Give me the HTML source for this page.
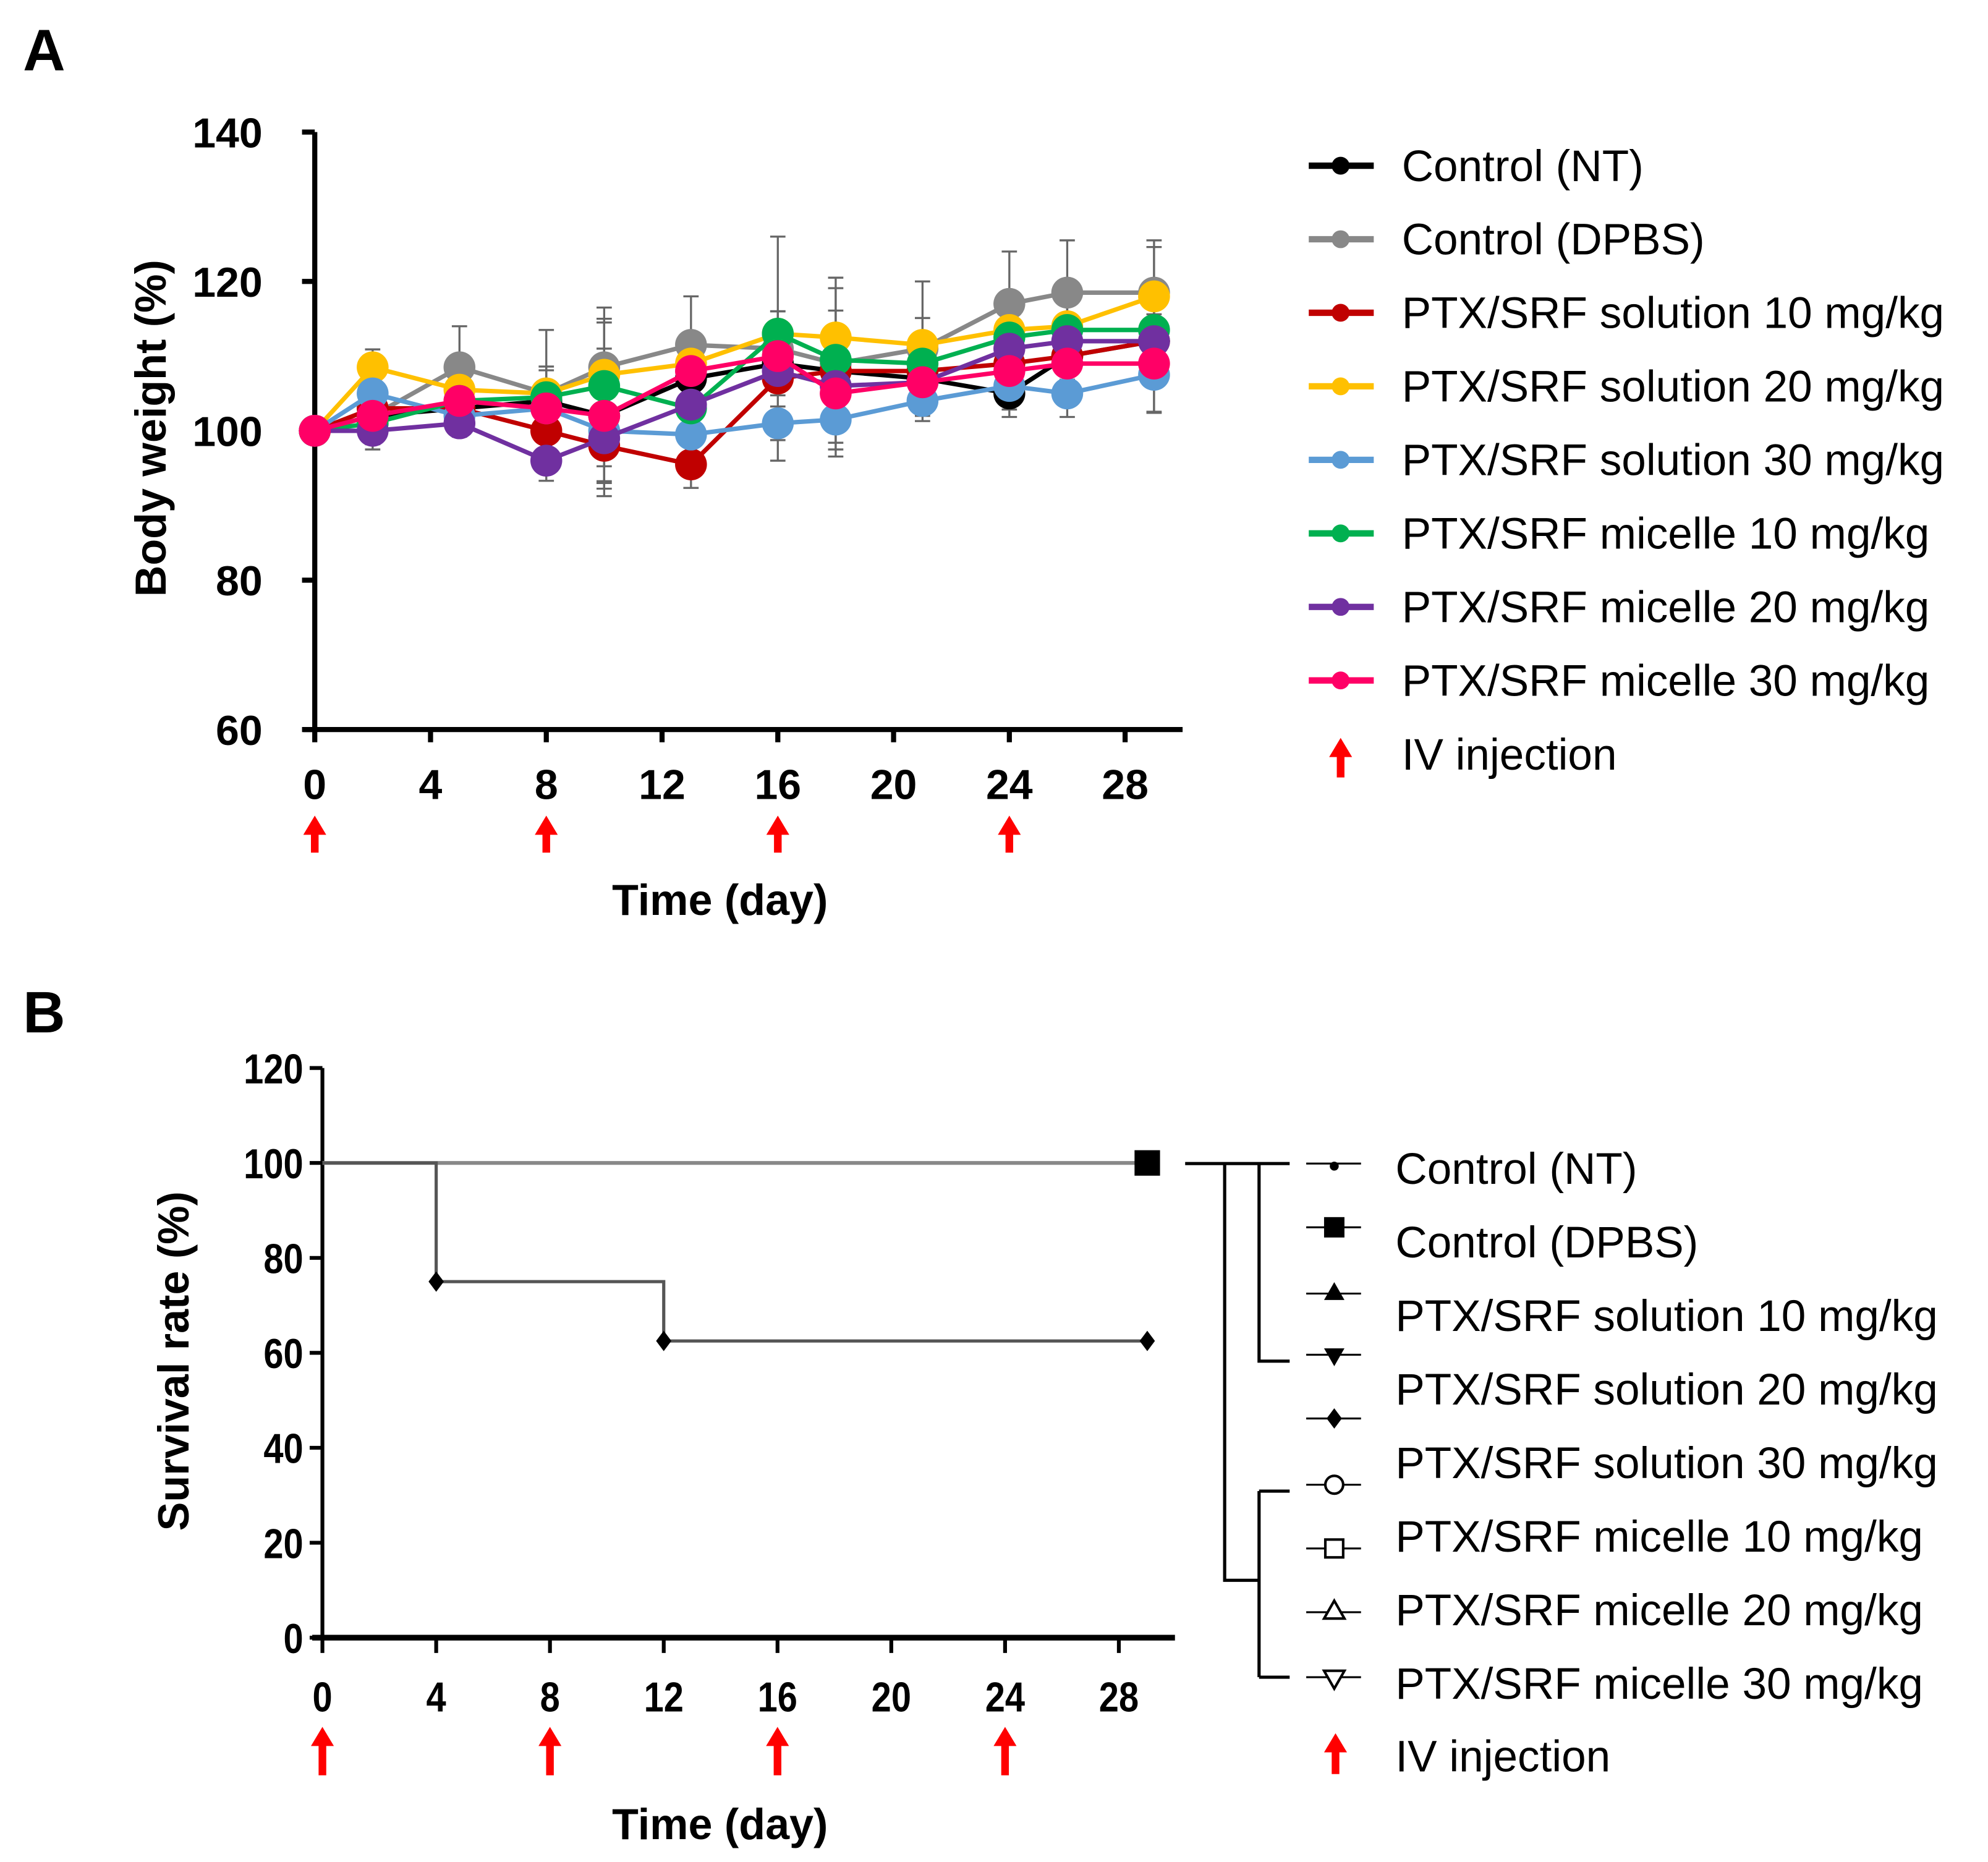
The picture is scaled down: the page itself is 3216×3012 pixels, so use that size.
<!DOCTYPE html>
<html><head><meta charset="utf-8"><style>
html,body{margin:0;padding:0;background:#fff;}
svg{display:block;}
text{font-family:"Liberation Sans",Arial,sans-serif;}
</style></head><body>
<svg id="fig" width="3216" height="3012" viewBox="0 0 1560 1461" xmlns="http://www.w3.org/2000/svg">
<g id="A"></g>
<g id="B"></g>
</svg>
<script>
const days = [0,2,5,8,10,13,16,18,21,24,26,29];
const seriesNames = ["Control (NT)","Control (DPBS)","PTX/SRF solution 10 mg/kg","PTX/SRF solution 20 mg/kg","PTX/SRF solution 30 mg/kg","PTX/SRF micelle 10 mg/kg","PTX/SRF micelle 20 mg/kg","PTX/SRF micelle 30 mg/kg"];
const seriesColors = ["#000000","#888888","#c00000","#ffc000","#5b9bd5","#00b050","#7030a0","#ff0066"];
const ctrlNT   = [100,102,103,104,102,107,109,108,107,105,110,112];
const ctrlDPBS = [100,102,108.5,105,108.5,111.5,111,109,111,117,118.5,118.5];
const sol10    = [100,103,103,100,98,95.5,107,108,108,109,110,112];
const sol20    = [100,108.5,105.5,105,107.5,109,113,112.5,111.5,113.5,114,118];
const sol30    = [100,105,102,103,100,99.5,101,101.5,104,106,105,107.5];
const mic10    = [100,101,104,104.5,106,103,113,109.5,109,112.5,113.5,113.5];
const mic20    = [100,100,101,96,99,103.5,108,106,106.5,111,112,112];
const mic30    = [100,102,104,103,102,108,110,105,106.5,108,109,109];
const errDPBS  = [0,4.5,5.5,8.5,6,6.5,15,11.5,9,7,7,7];
const errOther = [0,4,4,6,15,7,5,11,6,7,7,11];
const yTicksA = [60,80,100,120,140];
const xTicks = [0,4,8,12,16,20,24,28];
const injectionDays = [0,8,16,24];
const survNames = ["Control (NT)","Control (DPBS)","PTX/SRF solution 10 mg/kg","PTX/SRF solution 20 mg/kg","PTX/SRF solution 30 mg/kg","PTX/SRF micelle 10 mg/kg","PTX/SRF micelle 20 mg/kg","PTX/SRF micelle 30 mg/kg"];
const survStepDays = [0,4,12,29];
const survStepVals = [100,75,62.5,62.5];
const yTicksB = [0,20,40,60,80,100,120];

const NS="http://www.w3.org/2000/svg";
function mk(parent,tag,attrs,txt){const e=document.createElementNS(NS,tag);for(const k in attrs)e.setAttribute(k,attrs[k]);if(txt!==undefined)e.textContent=txt;parent.appendChild(e);return e;}
function arrow(g,x,y0,y1){
  const a=mk(g,'path',{d:`M${x} ${y0} L${x+9} ${y0+15} L${x+3} ${y0+15} L${x+3} ${y1} L${x-3} ${y1} L${x-3} ${y0+15} L${x-9} ${y0+15} Z`,fill:'#ff0000'});
  
  
}
const A=document.getElementById('A');
const xA=d=>247+d*22.71, yA=v=>338-(v-100)*5.86;
let t=mk(A,'text',{x:18,y:55,'font-size':46,'font-weight':'bold'},'A');

let ax=mk(A,'path',{d:`M247 ${yA(140)} V${yA(60)} M238 ${yA(60)} H928`,stroke:'#000','stroke-width':4,fill:'none'});

yTicksA.forEach(v=>{mk(A,'line',{x1:237,x2:247,y1:yA(v),y2:yA(v),stroke:'#000','stroke-width':4});
 const l=mk(A,'text',{x:206,y:yA(v)+12,'font-size':33,'font-weight':'bold','text-anchor':'end'},v);
 });
xTicks.forEach(d=>{mk(A,'line',{x1:xA(d),x2:xA(d),y1:yA(60),y2:yA(60)+10,stroke:'#000','stroke-width':4});
 const l=mk(A,'text',{x:xA(d),y:627,'font-size':33,'font-weight':'bold','text-anchor':'middle'},d);
 });
injectionDays.forEach(d=>arrow(A,xA(d),640,669));
t=mk(A,'text',{x:565,y:718,'font-size':34,'font-weight':'bold','text-anchor':'middle'},'Time (day)');

t=mk(A,'text',{x:0,y:0,'font-size':34,'font-weight':'bold','text-anchor':'middle',transform:'translate(130,336) rotate(-90)'},'Body weight (%)');

const allSeries=[ctrlNT,ctrlDPBS,sol10,sol20,sol30,mic10,mic20,mic30];
allSeries.forEach((s,si)=>{const e=si===1?errDPBS:errOther;s.forEach((v,i)=>{if(i===0)return;
 const x=xA(days[i]), er=e[i]*(si===1?1:(si%2?0.6:0.45));
 const eb=mk(A,'path',{d:`M${x} ${yA(v+er)} V${yA(v-er)} M${x-6} ${yA(v+er)} H${x+6} M${x-6} ${yA(v-er)} H${x+6}`,stroke:'#666','stroke-width':1.6,fill:'none'});
 });});
allSeries.forEach((s,si)=>{const g=mk(A,'g',{});
 
 const ln=mk(g,'polyline',{points:s.map((v,i)=>xA(days[i])+','+yA(v)).join(' '),stroke:seriesColors[si],'stroke-width':3.5,fill:'none'});
 
 s.forEach((v,i)=>{const c=mk(g,'circle',{cx:xA(days[i]),cy:yA(v),r:12.5,fill:seriesColors[si]});
  });});
seriesNames.forEach((n,i)=>{const y=130+i*57.7;const g=mk(A,'g',{});
 
 mk(g,'line',{x1:1027,x2:1078,y1:y,y2:y,stroke:seriesColors[i],'stroke-width':5});
 mk(g,'circle',{cx:1052,cy:y,r:7,fill:seriesColors[i]});
 mk(g,'text',{x:1100,y:y+12,'font-size':34.5},n);});
arrow(A,1052,579,610);
t=mk(A,'text',{x:1100,y:604,'font-size':34.5},'IV injection');


const B=document.getElementById('B');
const xB=d=>253+d*22.32, yB=v=>1285-v*3.725;
t=mk(B,'text',{x:18,y:810,'font-size':46,'font-weight':'bold'},'B');

mk(B,'path',{d:`M253 ${yB(120)} V${yB(0)}`,stroke:'#000','stroke-width':3});
ax=mk(B,'path',{d:`M245 ${yB(0)} H922`,stroke:'#000','stroke-width':4.5,fill:'none'});

yTicksB.forEach(v=>{mk(B,'line',{x1:243,x2:253,y1:yB(v),y2:yB(v),stroke:'#000','stroke-width':3});
 const l=mk(B,'text',{x:238,y:yB(v)+12,'font-size':33,'font-weight':'bold','text-anchor':'end',transform:`scale(0.85,1)`,'transform-origin':`238 ${yB(v)}`},v);
 });
xTicks.forEach(d=>{mk(B,'line',{x1:xB(d),x2:xB(d),y1:yB(0),y2:yB(0)+12,stroke:'#000','stroke-width':3});
 const l=mk(B,'text',{x:xB(d),y:1343,'font-size':33,'font-weight':'bold','text-anchor':'middle',transform:'scale(0.85,1)','transform-origin':`${xB(d)} 1330`},d);
 });
injectionDays.forEach(d=>arrow(B,xB(d),1355,1393));
t=mk(B,'text',{x:565,y:1443,'font-size':34,'font-weight':'bold','text-anchor':'middle'},'Time (day)');

t=mk(B,'text',{x:0,y:0,'font-size':34,'font-weight':'bold','text-anchor':'middle',transform:'translate(148,1068) rotate(-90)'},'Survival rate (%)');

let l100=mk(B,'line',{x1:xB(0),x2:xB(29),y1:yB(100),y2:yB(100),stroke:'#888','stroke-width':3});

let pd=`M${xB(survStepDays[0])} ${yB(survStepVals[0])}`;
for(let i=1;i<survStepDays.length;i++){pd+=` H${xB(survStepDays[i])} V${yB(survStepVals[i])}`;}
let sl=mk(B,'path',{d:pd,stroke:'#555','stroke-width':2.5,fill:'none'});

for(let i=1;i<survStepDays.length;i++){const x=xB(survStepDays[i]),y=yB(survStepVals[i]);
 const dm=mk(B,'path',{d:`M${x} ${y-8} L${x+6} ${y} L${x} ${y+8} L${x-6} ${y} Z`,fill:'#000'});
 }
let sq=mk(B,'rect',{x:xB(29)-10,y:yB(100)-10,width:20,height:20,fill:'#000'});

let br=mk(B,'path',{d:'M930 913 H1012 M988 913 V1068 H1012 M961 913 V1240 H988 M988 1170 V1316 M988 1170 H1012 M988 1316 H1012',stroke:'#000','stroke-width':2.5,fill:'none'});

const mY=[913,963,1015,1063,1113,1165,1215,1265,1316];
const syms=['dot','sq','tri','tri-d','dia','circ-o','sq-o','tri-o','tri-do'];
syms.forEach((s,i)=>{const y=mY[i],x=1047;const g=mk(B,'g',{});
 
 mk(g,'line',{x1:1025,x2:1068,y1:y,y2:y,stroke:'#000','stroke-width':1.5});
 if(s==='dot')mk(g,'circle',{cx:x,cy:y+2,r:3.5,fill:'#000'});
 if(s==='sq')mk(g,'rect',{x:x-8,y:y-8,width:16,height:16,fill:'#000'});
 if(s==='tri')mk(g,'path',{d:`M${x} ${y-9} L${x+8} ${y+5} L${x-8} ${y+5}Z`,fill:'#000'});
 if(s==='tri-d')mk(g,'path',{d:`M${x} ${y+9} L${x+8} ${y-5} L${x-8} ${y-5}Z`,fill:'#000'});
 if(s==='dia')mk(g,'path',{d:`M${x} ${y-8} L${x+6} ${y} L${x} ${y+8} L${x-6} ${y}Z`,fill:'#000'});
 if(s==='circ-o')mk(g,'circle',{cx:x,cy:y,r:7,fill:'#fff',stroke:'#000','stroke-width':2});
 if(s==='sq-o')mk(g,'rect',{x:x-7,y:y-7,width:14,height:14,fill:'#fff',stroke:'#000','stroke-width':2});
 if(s==='tri-o')mk(g,'path',{d:`M${x} ${y-9} L${x+8} ${y+5} L${x-8} ${y+5}Z`,fill:'#fff',stroke:'#000','stroke-width':2});
 if(s==='tri-do')mk(g,'path',{d:`M${x} ${y+9} L${x+8} ${y-5} L${x-8} ${y-5}Z`,fill:'#fff',stroke:'#000','stroke-width':2});
});
survNames.forEach((n,i)=>{const l=mk(B,'text',{x:1095,y:929+i*57.7,'font-size':34.5},n);
 });
arrow(B,1048,1360,1392);
t=mk(B,'text',{x:1095,y:1390,'font-size':34.5},'IV injection');

</script>
</body></html>
